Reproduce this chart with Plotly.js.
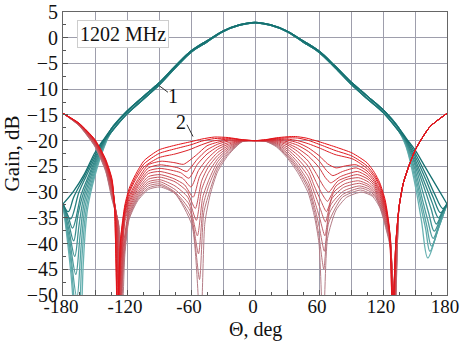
<!DOCTYPE html>
<html><head><meta charset="utf-8">
<script src="https://cdn.plot.ly/plotly-3.0.1.min.js"></script>
<style>html,body{margin:0;padding:0;background:#fff}#chart{width:460px;height:341px}</style>
</head><body><div id="chart"></div>
<script>
// ---- Curve 1 (teal family): shared main lobe + per-curve tails ----
const tealCoreTheta = [-135,-120,-105,-90,-75,-60,-45,-30,-15,0,15,30,45,60,75,90,105,120,135];
const tealCoreA = [-17.8,-14.3,-11.5,-8.8,-5.6,-2.6,-0.6,1.3,2.5,3.0,2.5,1.3,-0.6,-2.6,-5.5,-8.6,-11.3,-14.0,-17.6];
const tealCoreB = [-18.4,-14.8,-12.0,-9.2,-5.9,-2.8,-0.8,1.2,2.4,2.9,2.4,1.2,-0.8,-2.8,-5.8,-9.0,-11.8,-14.5,-18.2];

const tealL0 = [[-180,-32.3],[-170,-29.8],[-160,-26.5],[-150,-22.3],[-142,-19.8]];
const tealL1 = [[-180,-32.3],[-175,-33.8],[-170,-31],[-160,-27],[-150,-22.8],[-142,-20.0]];
const tealL2 = [[-180,-32.3],[-173,-35.2],[-165,-30],[-158,-26.8],[-150,-23.3],[-142,-20.2]];
const tealL3 = [[-180,-32.3],[-175.5,-34.5],[-171,-37],[-163,-30.5],[-157,-27.3],[-150,-23.8],[-142,-20.4]];
const tealL4 = [[-180,-32.3],[-175,-35.8],[-170,-39.5],[-166,-34.5],[-162,-31],[-150,-24.3],[-142,-20.6]];
const tealL5 = [[-180,-32.3],[-174.5,-37.3],[-169,-42.5],[-165,-36.5],[-161,-31.5],[-150,-24.8],[-142,-20.8]];
const tealL6 = [[-180,-32.3],[-174,-39],[-168,-46],[-164,-38.5],[-160,-32],[-150,-25.3],[-142,-21.0]];
const tealL7 = [[-180,-32.3],[-173.5,-41],[-167,-50.5],[-163,-40.5],[-159,-32.5],[-150,-25.8],[-142,-21.2]];
const tealL8 = [[-180,-32.3],[-173,-43],[-166,-57],[-162,-42],[-158,-33],[-150,-26.3],[-142,-21.4]];
const tealL9 = [[-180,-32.3],[-172.5,-46],[-165,-66],[-161,-44],[-157,-33.3],[-150,-26.8],[-142,-21.6]];

const tealR0 = [[142,-19.6],[150,-21.8],[160,-25.3],[170,-28.8],[180,-32.3]];
const tealR1 = [[142,-19.8],[150,-22.4],[160,-26.5],[168,-30.2],[176,-33.2],[180,-32.3]];
const tealR2 = [[142,-20],[150,-23],[160,-27.5],[167,-31],[174,-34],[180,-32.3]];
const tealR3 = [[142,-20.2],[150,-23.6],[160,-28.7],[166,-32],[172,-35],[176,-33.6],[180,-32.3]];
const tealR4 = [[142,-20.4],[150,-24.2],[160,-30],[165,-33.2],[170,-36.2],[175,-34.3],[180,-32.3]];
const tealR5 = [[142,-20.6],[150,-24.8],[158,-30.5],[163,-34.2],[168,-37.6],[174,-35],[180,-32.3]];
const tealR6 = [[142,-20.8],[150,-25.6],[157,-31.5],[162,-35.5],[167,-39],[173.5,-35.7],[180,-32.3]];
const tealR7 = [[142,-21],[150,-26.5],[156,-32],[161,-36.5],[165.5,-40.5],[173,-36.4],[180,-32.3]];
const tealR8 = [[142,-21.2],[150,-27.4],[155,-32.4],[160,-37.2],[164,-41.5],[172,-37],[180,-32.3]];
const tealR9 = [[142,-21.4],[150,-28.5],[156,-35.5],[162,-42.8],[171,-37.6],[180,-32.3]];

// ---- Curve 2 (red family) ----
const red00 = [[-180,-14.7],[-165,-16.6],[-150,-19.8],[-140,-23.6],[-134,-27.5],[-131.5,-34],[-129,-55],[-126,-39],[-122,-32.5],[-118,-29.3],[-112,-26.6],[-104,-23.9],[-90,-21.8],[-75,-20.9],[-60,-20.2],[-50,-19.7],[-38,-19.3],[-25,-19.4],[-12,-19.8],[0,-20],[10,-19.8],[20,-19.45],[30,-19.25],[38,-19.2],[48,-19.5],[60,-20.2],[75,-21.2],[91,-22.4],[105,-24.3],[112,-26.2],[117,-28.2],[122,-31.5],[126,-37],[129,-55],[132,-40]];
const red01 = [[-180,-14.7],[-165,-16.6],[-150,-19.9],[-140,-23.8],[-134,-27.8],[-131.5,-34.2],[-129,-52],[-126,-39.3],[-122,-33],[-118,-29.8],[-112,-27.1],[-104,-24.5],[-90,-22.5],[-75,-21.6],[-60,-20.8],[-50,-20.1],[-38,-19.6],[-25,-19.55],[-12,-19.85],[0,-20],[10,-19.85],[20,-19.55],[30,-19.45],[40,-19.5],[50,-19.95],[60,-20.7],[75,-21.9],[91,-23.0],[105,-24.9],[112,-26.7],[117,-28.6],[122,-32],[126,-37.5],[129.5,-52],[132,-40]];
const red02 = [[-180,-14.7],[-165,-16.7],[-150,-20.0],[-140,-24.0],[-134,-28.1],[-131,-34.4],[-128.5,-57],[-125.5,-39.6],[-122,-33.5],[-118,-30.2],[-112,-27.6],[-104,-25.1],[-90,-23.3],[-75,-22.6],[-62,-21.8],[-50,-20.8],[-40,-20.1],[-30,-19.8],[-20,-19.7],[-10,-19.9],[0,-20],[10,-19.9],[20,-19.65],[30,-19.7],[40,-20],[50,-20.6],[60,-21.4],[75,-22.7],[92,-23.6],[105,-25.4],[112,-27.1],[117,-29],[122,-32.4],[126,-38],[129.5,-57],[132,-40]];
const red03 = [[-180,-14.7],[-165,-16.7],[-150,-20.1],[-140,-24.2],[-134,-28.4],[-130.5,-34.6],[-128,-50],[-125,-39.8],[-122,-33.7],[-118,-30.8],[-110,-27.6],[-100,-24.7],[-88,-24.0],[-75,-24.3],[-67,-24.6],[-55,-22.8],[-45,-21.0],[-35,-20.3],[-25,-19.9],[-12,-19.95],[0,-20],[10,-19.95],[20,-19.75],[30,-19.9],[40,-20.4],[50,-21.4],[60,-22.9],[68,-24.5],[76,-25.3],[85,-24.9],[95,-24.7],[105,-25.9],[112,-27.6],[118,-30],[123,-33.5],[126.5,-38],[129.5,-53],[132,-40]];
const red04 = [[-180,-14.7],[-165,-16.75],[-150,-20.2],[-140,-24.3],[-134,-28.7],[-130.5,-34.8],[-128,-52],[-125,-40],[-122,-34],[-118,-31.3],[-110,-28.1],[-100,-25.3],[-89,-24.7],[-72,-25.3],[-64,-26.0],[-54,-23.6],[-45,-21.8],[-35,-20.7],[-25,-20.1],[-12,-20],[0,-20],[10,-20],[20,-19.85],[30,-20.2],[40,-20.9],[50,-22.1],[60,-23.9],[67,-25.8],[73,-26.8],[82,-26],[95,-25.3],[105,-26.4],[112,-28],[118,-30.4],[123,-33.9],[126.5,-38.5],[129.5,-51],[132,-40]];
const red05 = [[-180,-14.7],[-165,-16.8],[-150,-20.3],[-140,-24.5],[-134,-29.0],[-130,-35],[-127.5,-49],[-124.5,-40.2],[-122,-34.5],[-118,-31.8],[-110,-28.6],[-100,-25.9],[-89,-25.4],[-70,-26.2],[-62,-27.3],[-54,-24.6],[-45,-22.6],[-35,-21.2],[-25,-20.4],[-12,-20],[0,-20],[10,-20],[20,-20],[30,-20.5],[40,-21.5],[50,-23],[60,-25.2],[66,-27.2],[71,-28.2],[80,-27],[96,-26],[105,-26.9],[112,-28.4],[118,-30.8],[123,-34.3],[127,-39],[130,-56],[132.5,-40]];
const red06 = [[-180,-14.7],[-165,-16.8],[-150,-20.45],[-140,-24.7],[-134,-29.3],[-129.5,-35.2],[-127,-53],[-124,-40.4],[-122,-35],[-118,-32.3],[-110,-29],[-100,-26.4],[-89,-26.0],[-68,-27.3],[-60,-29],[-53,-25.8],[-45,-23.6],[-35,-21.7],[-25,-20.7],[-12,-20],[0,-20],[10,-20],[20,-20.15],[30,-20.8],[40,-22.1],[50,-24],[58,-26.6],[64,-28.8],[69,-30],[78,-27.8],[96,-26.6],[106,-27.5],[112,-28.8],[118,-31.2],[123,-34.7],[127,-39.3],[130,-52],[132.5,-40]];
const red07 = [[-180,-14.7],[-165,-16.9],[-150,-20.55],[-140,-24.9],[-134,-29.7],[-129.5,-35.4],[-127,-50],[-124,-40.6],[-122,-35.8],[-118,-32.8],[-110,-29.5],[-100,-27],[-89,-26.6],[-76,-27.4],[-66,-28.6],[-58,-31],[-52,-27.0],[-45,-24.6],[-35,-22.3],[-25,-21],[-12,-20.05],[0,-20],[10,-20.05],[20,-20.3],[30,-21.2],[40,-22.8],[50,-25],[57,-27.9],[63,-30.4],[68,-31.8],[76,-28.8],[85,-27.6],[97,-27.2],[106,-28],[112,-29.2],[118,-31.6],[123,-35.1],[127,-39.6],[130,-58],[132.5,-40]];
const red08 = [[-180,-14.7],[-165,-16.9],[-150,-20.7],[-140,-25.1],[-134,-30.0],[-129,-35.6],[-126.5,-56],[-123.5,-40.8],[-118,-33.3],[-110,-30],[-100,-27.5],[-89,-27.1],[-75,-28.0],[-64,-29.8],[-56,-33.2],[-50,-27.8],[-44,-25.2],[-35,-22.9],[-25,-21.3],[-12,-20.05],[0,-20],[10,-20.05],[20,-20.45],[30,-21.6],[40,-23.5],[50,-26],[56,-29],[62,-31.8],[67,-33.8],[74,-30],[84,-28.4],[97,-27.8],[106,-28.5],[112,-29.6],[118,-32],[123,-35.5],[127,-39.8],[130.5,-53],[133,-40]];
const red09 = [[-180,-14.7],[-165,-16.95],[-150,-20.8],[-140,-25.3],[-134,-30.3],[-128.5,-35.8],[-126,-51],[-123,-41],[-118,-33.8],[-110,-30.4],[-100,-28],[-89,-27.6],[-75,-28.8],[-63,-31.0],[-55,-35.5],[-50,-29.5],[-44,-26.4],[-35,-23.5],[-25,-21.6],[-12,-20.1],[0,-20],[10,-20.1],[20,-20.6],[30,-22],[40,-24.2],[50,-27],[56,-30.3],[61.5,-33.4],[66,-35.8],[72,-31.3],[83,-29.1],[98,-28.3],[107,-29],[113,-30.3],[118,-32.4],[123,-35.9],[127,-40],[130.5,-56],[133,-40]];
const red10 = [[-180,-14.7],[-165,-17.0],[-150,-20.9],[-140,-25.45],[-134,-30.6],[-128.5,-36],[-126,-55],[-123,-41.5],[-118,-34.2],[-110,-30.8],[-100,-28.4],[-89,-28.0],[-75,-29.5],[-62,-32.3],[-54,-38.5],[-49,-31],[-43,-27.5],[-35,-24.1],[-25,-21.9],[-12,-20.1],[0,-20],[10,-20.1],[20,-20.75],[30,-22.4],[40,-24.8],[50,-28],[56,-31.8],[61,-35.3],[65.5,-38.5],[71,-32.5],[83,-29.8],[98,-28.8],[107,-29.4],[113,-30.6],[118,-32.8],[123,-36.3],[127,-40.3],[131,-52],[133.5,-40]];
const red11 = [[-180,-14.7],[-165,-17.0],[-150,-21.0],[-140,-25.6],[-134,-30.9],[-128,-36.2],[-125.5,-49],[-122.5,-41.8],[-118,-34.6],[-110,-31.1],[-100,-28.8],[-89,-28.4],[-75,-30.0],[-61,-33.6],[-53,-42],[-48.5,-32.5],[-43,-28.6],[-35,-24.8],[-25,-22.2],[-12,-20.15],[0,-20],[10,-20.1],[20,-20.9],[30,-22.7],[40,-25.3],[50,-28.8],[56,-33],[60.5,-37],[65,-41.5],[70,-34],[82,-30.5],[99,-29.2],[108,-29.9],[113,-30.9],[118,-33.1],[123,-36.6],[127,-40.5],[131,-57],[133.5,-40]];
const red12 = [[-180,-14.7],[-165,-17.05],[-150,-21.1],[-140,-25.8],[-134,-31.2],[-128,-36.4],[-125.5,-54],[-122.5,-42],[-118,-35],[-110,-31.4],[-100,-29.2],[-89,-28.7],[-75,-30.2],[-60,-35],[-52,-47],[-48,-34],[-42,-29.5],[-35,-25.4],[-25,-22.5],[-12,-20.2],[0,-20],[10,-20.1],[20,-21.05],[30,-23],[40,-25.7],[50,-29.4],[56,-34],[60,-38.5],[64.5,-45],[69,-36],[82,-31],[99,-29.6],[108,-30.3],[113,-31.1],[118,-33.4],[123,-36.9],[127,-40.7],[131,-53],[133.5,-40]];
const red13 = [[-180,-14.7],[-165,-17.1],[-150,-21.2],[-140,-26],[-134,-31.5],[-127.5,-36.6],[-125,-58],[-122,-42.2],[-118,-35.3],[-110,-31.7],[-100,-29.5],[-89,-29],[-75,-30.3],[-59,-36.5],[-51,-57],[-47,-36],[-42,-30.5],[-35,-26],[-25,-22.8],[-12,-20.2],[0,-20],[10,-20.15],[20,-21.2],[30,-23.3],[40,-26.2],[50,-30.2],[56,-35],[60,-40],[64,-57],[68,-39],[76,-33.5],[86,-31],[100,-30],[110,-30.8],[117,-33],[122,-36.5],[127,-41],[131,-58],[133.5,-40]];
const redRightTail = [[135,-33],[139,-28.3],[145,-24.5],[151,-21.5],[164,-17.3],[180,-14.7]];

const xTickVals = [-180,-150,-120,-90,-60,-30,0,30,60,90,120,150,180];
const xTickText = ['-180','','-120','','-60','','0','','60','','120','','180'];

// ---- build traces ----
const tealLeft = [tealL0,tealL1,tealL2,tealL3,tealL4,tealL5,tealL6,tealL7,tealL8,tealL9];
const tealRight = [tealR0,tealR1,tealR2,tealR3,tealR4,tealR5,tealR6,tealR7,tealR8,tealR9];
const redCurves = [red00,red01,red02,red03,red04,red05,red06,red07,red08,red09,red10,red11,red12,red13];

function mix(a,b,t){return 'rgb('+a.map((v,i)=>Math.round(v+(b[i]-v)*t)).join(',')+')';}

const traces = [];
for (let i = tealLeft.length-1; i >= 0; i--) {
  const core = (i % 2 === 0) ? tealCoreA : tealCoreB;
  const x = tealLeft[i].map(p=>p[0]).concat(tealCoreTheta, tealRight[i].map(p=>p[0]));
  const y = tealLeft[i].map(p=>p[1]).concat(core, tealRight[i].map(p=>p[1]));
  traces.push({x, y, type:'scatter', mode:'lines', hoverinfo:'skip',
    line:{color: mix([20,112,112],[105,178,178], i/(tealLeft.length-1)), width:1.3, shape:'spline', smoothing:1}});
}
for (let k = redCurves.length-1; k >= 0; k--) {
  const pts = redCurves[k].concat(redRightTail);
  traces.push({x: pts.map(p=>p[0]), y: pts.map(p=>p[1]), type:'scatter', mode:'lines', hoverinfo:'skip',
    line:{color: mix([228,18,24],[180,125,135], k/(redCurves.length-1)), width:1, shape:'spline', smoothing:0.6}});
}

const serif = 'Liberation Serif, Times New Roman, serif';
const gridCol = 'rgb(158,158,172)';
const layout = {
  width:460, height:341,
  margin:{l:63, r:13, t:12, b:46},
  paper_bgcolor:'#fff', plot_bgcolor:'#fff',
  showlegend:false,
  font:{family:serif, size:20, color:'#111'},
  xaxis:{range:[-180,180], tickmode:'array', tickvals:xTickVals, ticktext:xTickText,
    showgrid:true, gridcolor:gridCol, gridwidth:1, zeroline:false,
    showline:true, mirror:true, linecolor:'#666', linewidth:1,
    ticks:'inside', ticklen:5, tickcolor:'#555', ticklabeloverflow:'allow', ticklabelstandoff:-6, ticklabelshift:-2,
    minor:{tickmode:'linear', tick0:-180, dtick:15, ticks:'inside', ticklen:3, tickcolor:'#555', showgrid:false},
    tickfont:{family:serif, size:19, color:'#111'}},
  yaxis:{range:[-50,5], tickmode:'linear', tick0:0, dtick:5,
    showgrid:true, gridcolor:gridCol, gridwidth:1, zeroline:false,
    showline:true, mirror:true, linecolor:'#666', linewidth:1,
    ticks:'inside', ticklen:5, tickcolor:'#555',
    minor:{dtick:2.5, ticks:'inside', ticklen:3, tickcolor:'#555', showgrid:false},
    tickfont:{family:serif, size:20, color:'#111'},
    title:{text:'Gain, dB', font:{family:serif, size:21, color:'#111'}, standoff:4}},
  annotations:[
    {x:0.5, y:-0.122, xref:'paper', yref:'paper', yanchor:'middle', text:'Θ, deg', showarrow:false,
     font:{family:serif, size:20, color:'#111'}},
    {x:-123.3, y:0.7, xref:'x', yref:'y', text:'1202 MHz', showarrow:false,
     font:{family:serif, size:20, color:'#111'}, bgcolor:'#fff', bordercolor:'rgb(205,205,205)', borderwidth:1, borderpad:2},
    {x:-76.5, y:-11.3, xref:'x', yref:'y', text:'1', showarrow:false, font:{family:serif, size:20, color:'#111'}},
    {x:-69.5, y:-16.3, xref:'x', yref:'y', text:'2', showarrow:false, font:{family:serif, size:20, color:'#111'}}
  ],
  shapes:[
    {type:'line', xref:'x', yref:'y', x0:-90, y0:-9.3, x1:-81.6, y1:-10.6, line:{color:'#333', width:1}},
    {type:'line', xref:'x', yref:'y', x0:-63.8, y0:-16.9, x1:-58.1, y1:-19.2, line:{color:'#333', width:1}}
  ]
};
Plotly.newPlot('chart', traces, layout, {displayModeBar:false, staticPlot:true});
</script>
</body></html>
